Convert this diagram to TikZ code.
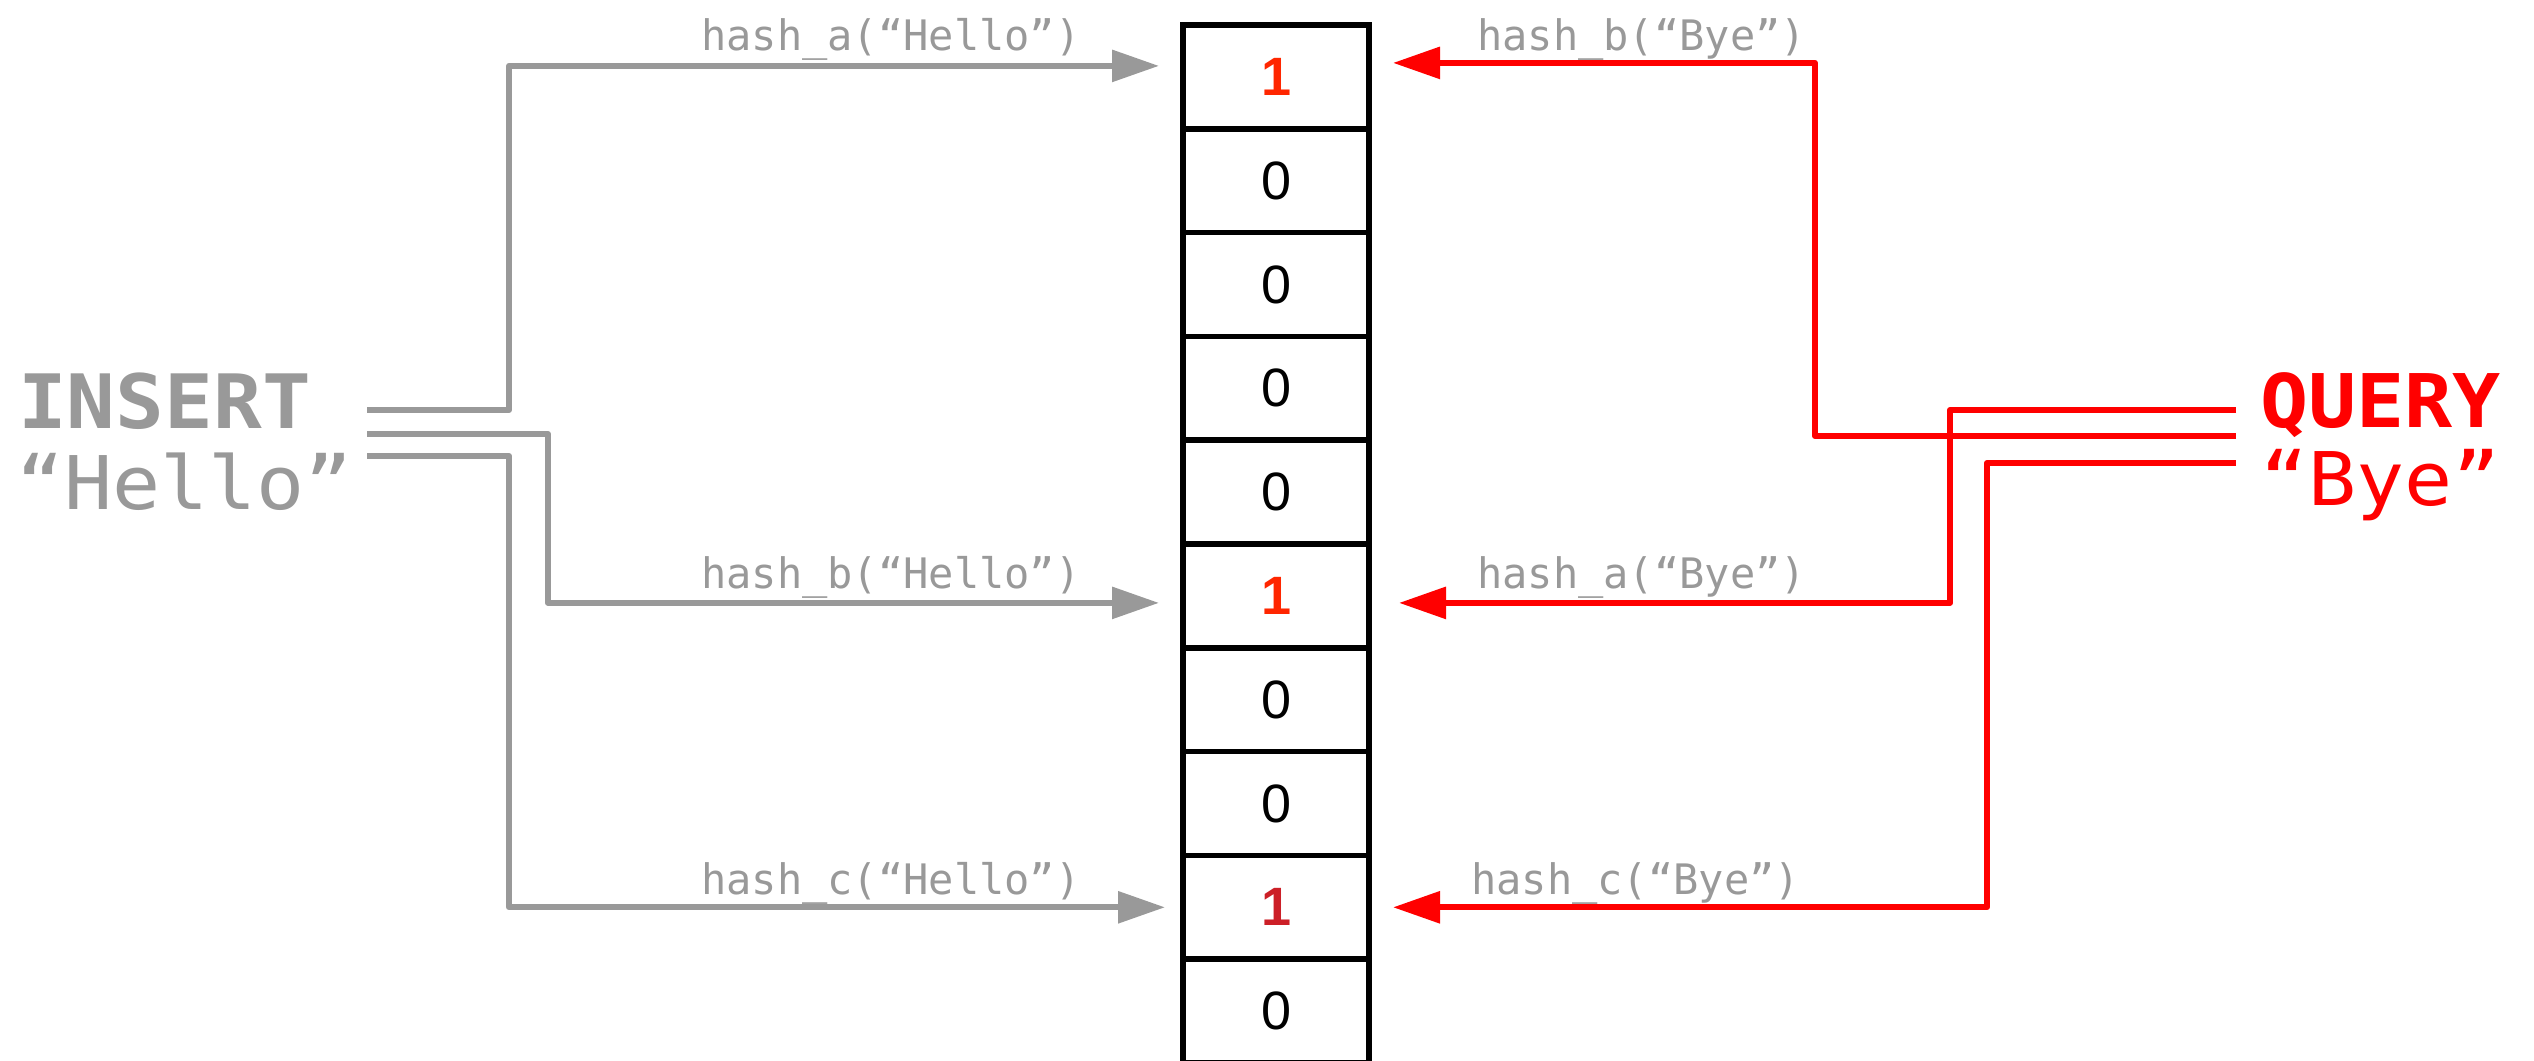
\documentclass[tikz,border=0pt]{standalone}
\usepackage{fontspec}
\setmainfont{Liberation Sans}
\newfontfamily\codefont{DejaVu Sans Mono}
\newfontfamily\bigmono[FakeStretch=1.08]{DejaVu Sans Mono}
\usetikzlibrary{arrows.meta}
\definecolor{insgray}{HTML}{999999}
\definecolor{qred}{HTML}{FF0000}
\definecolor{bitred}{HTML}{FF2600}
\definecolor{bitdark}{HTML}{CC1F27}

\begin{document}
\begin{tikzpicture}[x=1pt,y=-1pt,
  bit/.style={draw=black,line width=5.5pt,minimum width=186pt,minimum height=103.8pt,
    inner sep=0pt,outer sep=0pt,anchor=north west,font=\fontsize{54}{60}\selectfont},
  setbit/.style={bit,font=\fontsize{54}{60}\selectfont\bfseries,text=bitred},
  wire/.style={line width=6pt,line join=round,-{Triangle[length=47pt,width=31pt]}},
  inswire/.style={wire,draw=insgray},
  qwire/.style={wire,draw=qred},
  hashlabel/.style={anchor=base west,inner sep=0pt,text=insgray,
    font=\codefont\fontsize{42}{50}\selectfont},
  bigword/.style={anchor=base west,inner sep=0pt,font=\bigmono\fontsize{74}{80}\selectfont}
]
\useasboundingbox (0,0) rectangle (2534,1060);

% the bit array
\node[setbit] (c1) at (1183,25) {1};
\node[bit] (c2) at (1183,128.8) {0};
\node[bit] (c3) at (1183,232.6) {0};
\node[bit] (c4) at (1183,336.4) {0};
\node[bit] (c5) at (1183,440.2) {0};
\node[setbit] (c6) at (1183,544) {1};
\node[bit] (c7) at (1183,647.8) {0};
\node[bit] (c8) at (1183,751.6) {0};
\node[setbit,text=bitdark] (c9) at (1183,855.4) {1};
\node[bit] (c10) at (1183,959.2) {0};

% operations
\node[bigword,text=insgray,font=\bigmono\bfseries\fontsize{75}{80}\selectfont] (insert) at (18,428) {INSERT};
\node[bigword,text=insgray] (hello) at (16,509) {“Hello”};
\node[bigword,text=qred,font=\bigmono\bfseries\fontsize{74}{80}\selectfont] (query) at (2260,427) {QUERY};
\node[bigword,text=qred] (bye) at (2260,505) {“Bye”};

% free ends of the hash wires
\coordinate (i1) at (367,410);
\coordinate (i2) at (367,434);
\coordinate (i3) at (367,456);
\coordinate (q1) at (2236,410);
\coordinate (q2) at (2236,436);
\coordinate (q3) at (2236,463);

% insert wires
\draw[inswire,shorten >=24pt] (i1) -- (509,410) |- ([yshift=11pt]c1.west);
\draw[inswire,shorten >=24pt] (i2) -- (548,434) |- ([yshift=-7pt]c6.west);
\draw[inswire,shorten >=18pt] (i3) -- (509,456) |- (c9.west);

% query wires
\draw[qwire,shorten >=24pt] (q2) -- (1815,436) |- ([yshift=14pt]c1.east);
\draw[qwire,shorten >=30pt] (q1) -- (1950,410) |- ([yshift=-7pt]c6.east);
\draw[qwire,shorten >=24pt] (q3) -- (1987,463) |- (c9.east);

% hash labels
\node[hashlabel] (ha) at (701,50) {hash\_a(“Hello”)};
\node[hashlabel] (hb) at (701,588) {hash\_b(“Hello”)};
\node[hashlabel] (hc) at (701,894) {hash\_c(“Hello”)};
\node[hashlabel] (qb) at (1477,50) {hash\_b(“Bye”)};
\node[hashlabel] (qa) at (1477,588) {hash\_a(“Bye”)};
\node[hashlabel] (qc) at (1471,894) {hash\_c(“Bye”)};
\end{tikzpicture}
\end{document}
